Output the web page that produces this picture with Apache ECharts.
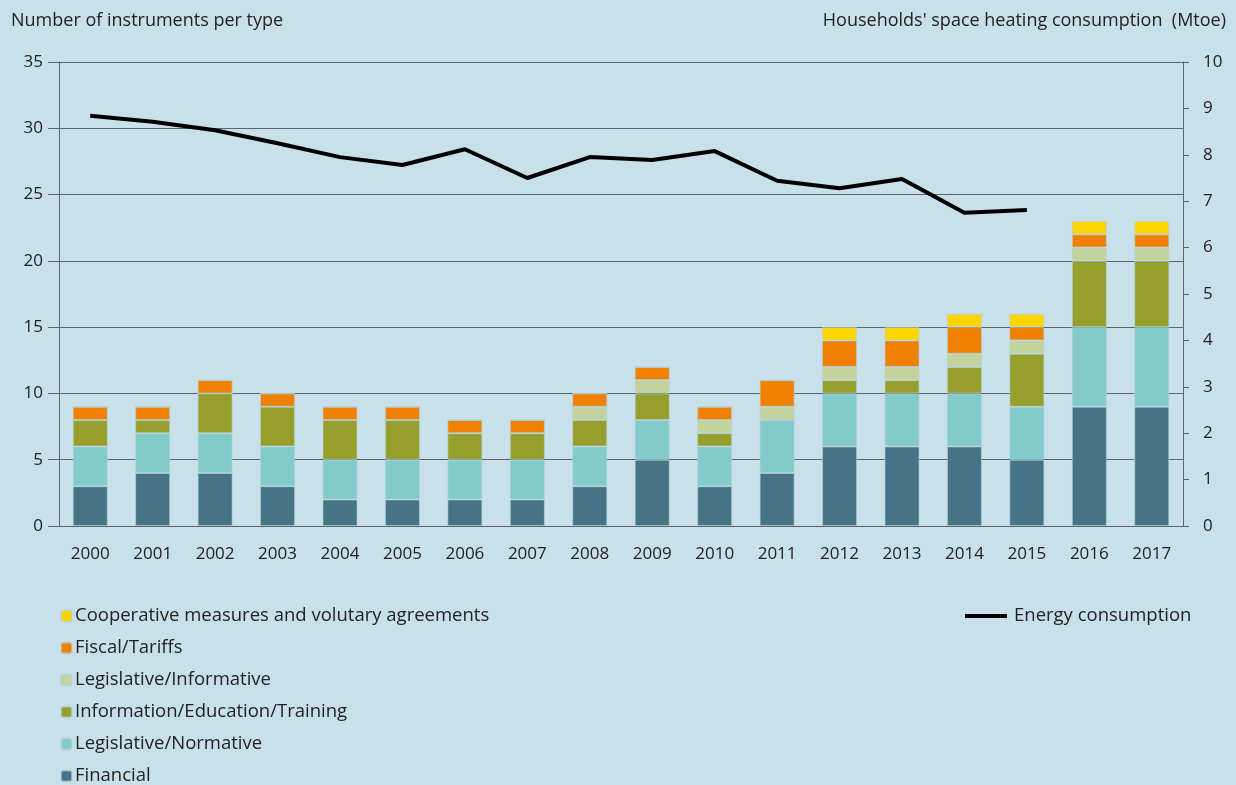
<!DOCTYPE html>
<html>
<head>
<meta charset="utf-8">
<script src="https://cdn.jsdelivr.net/npm/echarts@6/dist/echarts.min.js"></script>
<style>
  html, body { margin: 0; padding: 0; background: #c8e0ea; }
  #chart { width: 1236px; height: 785px; }
</style>
</head>
<body>
<div id="chart"></div>
<script>
const years = ['2000', '2001', '2002', '2003', '2004', '2005', '2006', '2007', '2008',
  '2009', '2010', '2011', '2012', '2013', '2014', '2015', '2016', '2017'];

// instruments per type (left axis)
const financial   = [3, 4, 4, 3, 2, 2, 2, 2, 3, 5, 3, 4, 6, 6, 6, 5, 9, 9];
const legNormative = [3, 3, 3, 3, 3, 3, 3, 3, 3, 3, 3, 4, 4, 4, 4, 4, 6, 6];
const infoEducation = [2, 1, 3, 3, 3, 3, 2, 2, 2, 2, 1, 0, 1, 1, 2, 4, 5, 5];
const legInformative = [0, 0, 0, 0, 0, 0, 0, 0, 1, 1, 1, 1, 1, 1, 1, 1, 1, 1];
const fiscalTariffs = [1, 1, 1, 1, 1, 1, 1, 1, 1, 1, 1, 2, 2, 2, 2, 1, 1, 1];
const cooperative  = [0, 0, 0, 0, 0, 0, 0, 0, 0, 0, 0, 0, 1, 1, 1, 1, 1, 1];

// households' space heating consumption, Mtoe (right axis)
const energy = [8.84, 8.71, 8.53, 8.25, 7.95, 7.78, 8.12, 7.5, 7.95, 7.89, 8.08,
  7.44, 7.28, 7.48, 6.75, 6.81, null, null];

const leftTicks = { min: 0, max: 35, interval: 5 };
const rightTicks = { min: 0, max: 10, interval: 1 };

const font = "'Open Sans', 'Noto Sans', sans-serif";
const txt = '#222';
const lineCol = '#5b666b';

function barSeries(name, data, color) {
  return {
    name: name,
    type: 'bar',
    stack: 'total',
    barWidth: 35,
    data: data,
    itemStyle: { color: color, borderColor: 'rgba(180,210,218,0.6)', borderWidth: 1 },
    emphasis: { disabled: true }
  };
}

const chart = echarts.init(document.getElementById('chart'));
chart.setOption({
  backgroundColor: '#c8e0ea',
  animation: false,
  textStyle: { fontFamily: font },
  title: [
    { text: 'Number of instruments per type', left: 6, top: 7,
      textStyle: { fontSize: 18, fontWeight: 'normal', color: txt, fontFamily: font } },
    { text: "Households' space heating consumption  (Mtoe)", right: 5, top: 7,
      textStyle: { fontSize: 18, fontWeight: 'normal', color: txt, fontFamily: font } }
  ],
  legend: [
    {
      orient: 'vertical', left: 60, top: 606, height: 200, padding: 0,
      itemWidth: 11, itemHeight: 11, itemGap: 12,
      data: ['Cooperative measures and volutary agreements', 'Fiscal/Tariffs',
        'Legislative/Informative', 'Information/Education/Training',
        'Legislative/Normative', 'Financial'],
      textStyle: { fontSize: 18.5, color: txt, fontFamily: font, lineHeight: 20, padding: [0, 0, 0, -2] },
      selectedMode: false
    },
    {
      orient: 'vertical', left: 965, top: 606, padding: 0,
      itemWidth: 42, itemHeight: 12,
      data: [{ name: 'Energy consumption', icon: 'path://M0,0 L40,0 L40,4 L0,4 Z' }],
      textStyle: { fontSize: 18.5, color: txt, fontFamily: font, lineHeight: 20, padding: [0, 0, 0, 2] },
      selectedMode: false
    }
  ],
  grid: { left: 59, right: 53, top: 62, bottom: 259 },
  xAxis: {
    type: 'category',
    data: years,
    axisLine: { lineStyle: { color: lineCol } },
    axisTick: { length: 9, lineStyle: { color: lineCol } },
    axisLabel: { fontSize: 17, color: txt, margin: 20, fontFamily: font }
  },
  yAxis: [
    {
      type: 'value', min: leftTicks.min, max: leftTicks.max, interval: leftTicks.interval,
      axisLine: { show: true, lineStyle: { color: lineCol } },
      axisTick: { show: true, length: 11, lineStyle: { color: lineCol } },
      axisLabel: { fontSize: 17, color: txt, margin: 16, fontFamily: font },
      splitLine: { lineStyle: { color: lineCol, width: 1 } }
    },
    {
      type: 'value', min: rightTicks.min, max: rightTicks.max, interval: rightTicks.interval,
      position: 'right',
      axisLine: { show: true, lineStyle: { color: lineCol } },
      axisTick: { show: true, length: 6, lineStyle: { color: lineCol } },
      axisLabel: { fontSize: 17, color: txt, margin: 20, fontFamily: font },
      splitLine: { show: false }
    }
  ],
  series: [
    barSeries('Financial', financial, '#467386'),
    barSeries('Legislative/Normative', legNormative, '#83cbcb'),
    barSeries('Information/Education/Training', infoEducation, '#969f2b'),
    barSeries('Legislative/Informative', legInformative, '#c3d39c'),
    barSeries('Fiscal/Tariffs', fiscalTariffs, '#f08000'),
    barSeries('Cooperative measures and volutary agreements', cooperative, '#ffd500'),
    {
      name: 'Energy consumption',
      type: 'line',
      yAxisIndex: 1,
      data: energy,
      showSymbol: false,
      symbol: 'none',
      lineStyle: { color: '#000', width: 4 },
      itemStyle: { color: '#000' },
      emphasis: { disabled: true }
    }
  ]
});

window.addEventListener('resize', () => chart.resize(), { passive: true });
</script>
</body>
</html>
